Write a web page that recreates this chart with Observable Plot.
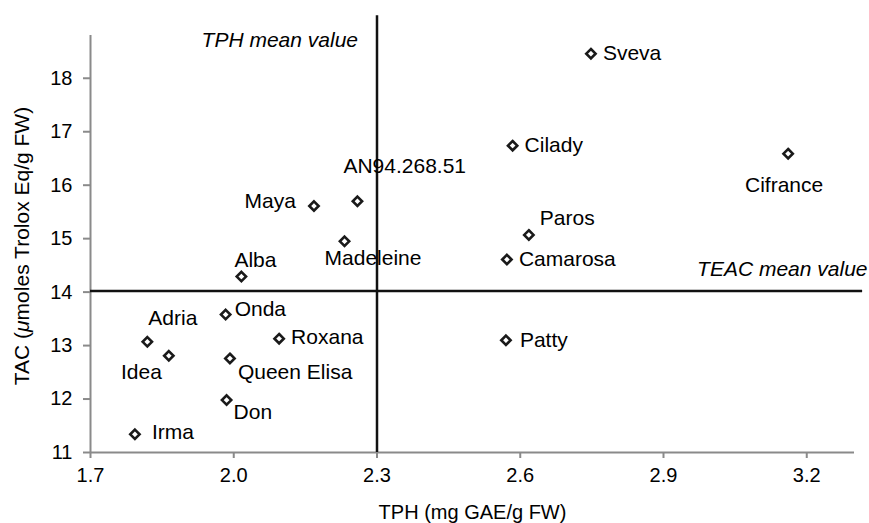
<!DOCTYPE html>
<html>
<head>
<meta charset="utf-8">
<script src="https://cdn.jsdelivr.net/npm/d3@7"></script>
<script src="https://cdn.jsdelivr.net/npm/@observablehq/plot@0.6"></script>
<style>
  html, body { margin: 0; padding: 0; background: #fff; }
  #chart svg { display: block; }
</style>
</head>
<body>
<div id="chart"></div>
<script>
// ---- data ----
const cultivars = ["Sveva", "Cilady", "Cifrance", "Paros", "Camarosa", "Patty", "Maya", "AN94.268.51", "Madeleine", "Alba", "Onda", "Adria", "Idea", "Roxana", "Queen Elisa", "Don", "Irma"];
const tph = [2.748, 2.584, 3.161, 2.618, 2.572, 2.570, 2.168, 2.259, 2.232, 2.016, 1.983, 1.819, 1.864, 2.095, 1.992, 1.985, 1.793];
const tac = [18.46, 16.74, 16.59, 15.07, 14.61, 13.10, 15.61, 15.70, 14.95, 14.29, 13.58, 13.07, 12.81, 13.13, 12.76, 11.98, 11.34];
const xTicks = [1.7, 2.0, 2.3, 2.6, 2.9, 3.2];
const yTicks = [11, 12, 13, 14, 15, 16, 17, 18];
const tphMean = 2.3;
const teacMean = 14.02;
const xLabel = "TPH (mg GAE/g FW)";
const yLabel = "TAC (μmoles Trolox Eq/g FW)";
const tphMeanLabel = "TPH mean value";
const teacMeanLabel = "TEAC mean value";

// ---- layout (label placement relative to each point) ----
const xDomain = [1.7, 3.3];
const yDomain = [11, 18.8];
const place = {
  "Sveva": [12, 0, "start"],
  "Cilady": [12, 0, "start"],
  "Cifrance": [-4, 32, "middle"],
  "Paros": [11, -17, "start"],
  "Camarosa": [12, 0, "start"],
  "Patty": [14, 0, "start"],
  "Maya": [-18, -5, "end"],
  "AN94.268.51": [-14, -35, "start"],
  "Madeleine": [-20, 17, "start"],
  "Alba": [-7, -16, "start"],
  "Onda": [9, -5, "start"],
  "Adria": [1, -24, "start"],
  "Idea": [-7, 17, "end"],
  "Roxana": [12, -1, "start"],
  "Queen Elisa": [8, 14, "start"],
  "Don": [7, 12, "start"],
  "Irma": [17, -2, "start"]
};

const points = cultivars.map((name, i) => ({name, tph: tph[i], tac: tac[i]}));
const axisGray = "#8a8a8a";
const ink = "#111";

const labelMarks = points.map(p => {
  const [dx, dy, anchor] = place[p.name];
  return Plot.text([p], {x: "tph", y: "tac", text: "name", dx, dy, textAnchor: anchor, lineAnchor: "middle", fill: "#000", fontSize: 21});
});

const plot = Plot.plot({
  width: 869,
  height: 523,
  marginLeft: 90,
  marginRight: 15,
  marginTop: 35,
  marginBottom: 71,
  style: {fontFamily: "'Liberation Sans', Arial, Helvetica, sans-serif", fontSize: "20px", background: "#fff", overflow: "visible"},
  x: {domain: xDomain},
  y: {domain: yDomain},
  marks: [
    // axis lines
    Plot.ruleX([xDomain[0]], {y1: yDomain[0], y2: yDomain[1], stroke: axisGray, strokeWidth: 2}),
    Plot.ruleY([yDomain[0]], {x1: xDomain[0], x2: xDomain[1], stroke: axisGray, strokeWidth: 2}),
    Plot.axisX({ticks: xTicks, tickFormat: d3.format(".1f"), tickSize: 6, tickPadding: 9, stroke: axisGray, strokeWidth: 2, fill: "#000", fontSize: 20, label: null}),
    Plot.axisY({ticks: yTicks, tickFormat: d3.format("d"), tickSize: 7, tickPadding: 11, stroke: axisGray, strokeWidth: 2, fill: "#000", fontSize: 20, label: null}),
    // mean lines
    Plot.ruleX([tphMean], {y1: yDomain[0], y2: 19.17, stroke: ink, strokeWidth: 2.5}),
    Plot.ruleY([teacMean], {x1: xDomain[0], x2: 3.317, stroke: ink, strokeWidth: 2.5}),
    Plot.text([tphMeanLabel], {x: () => tphMean, frameAnchor: "top", dx: -19, dy: 5, textAnchor: "end", lineAnchor: "middle", fontStyle: "italic", fontSize: 21, fill: "#000"}),
    Plot.text([teacMeanLabel], {y: () => teacMean, frameAnchor: "right", dx: 13, dy: -22, textAnchor: "end", lineAnchor: "middle", fontStyle: "italic", fontSize: 21, fill: "#000"}),
    // points
    Plot.dot(points, {x: "tph", y: "tac", symbol: "diamond2", r: 4.2, stroke: "#1a1a1a", strokeWidth: 2.6, fill: "#fff"}),
    ...labelMarks,
    // axis titles
    Plot.text([xLabel], {frameAnchor: "bottom", dy: 60, textAnchor: "middle", lineAnchor: "middle", fontSize: 20, fill: "#000"}),
    Plot.text([yLabel], {frameAnchor: "left", dx: -68, dy: 2, rotate: -90, textAnchor: "middle", lineAnchor: "middle", fontSize: 21, fill: "#000"})
  ]
});

// italic μ in the y-axis title
for (const t of plot.querySelectorAll("text")) {
  if (t.children.length === 0 && t.textContent.includes("μ")) {
    const s = t.textContent;
    const k = s.indexOf("μ");
    t.textContent = "";
    const ns = "http://www.w3.org/2000/svg";
    const a = document.createElementNS(ns, "tspan"); a.textContent = s.slice(0, k);
    const b = document.createElementNS(ns, "tspan"); b.textContent = "μ"; b.setAttribute("font-style", "italic");
    const c = document.createElementNS(ns, "tspan"); c.textContent = s.slice(k + 1);
    t.append(a, b, c);
  }
}

document.getElementById("chart").appendChild(plot);
</script>
</body>
</html>
